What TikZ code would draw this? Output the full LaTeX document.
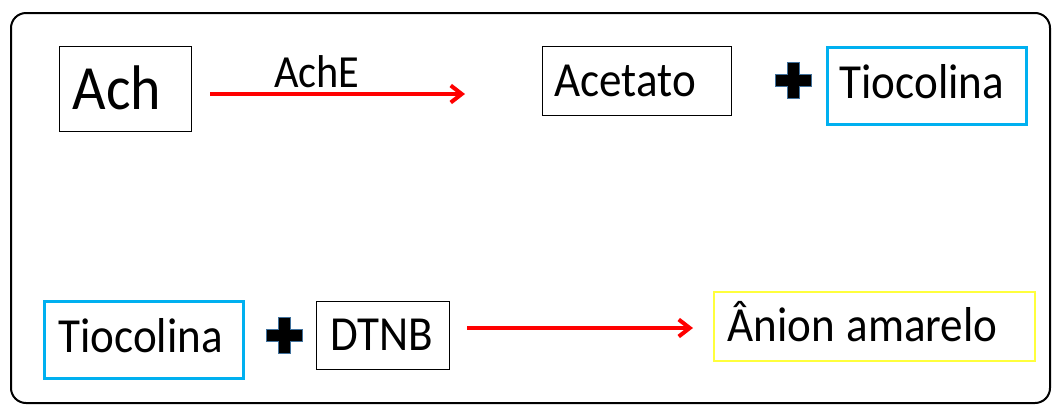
\documentclass[tikz,border=0pt]{standalone}
\usepackage{fontspec}
\setmainfont{Carlito}[FakeStretch=0.92]
\usetikzlibrary{arrows.meta}
\definecolor{cyanline}{HTML}{00B0F0}
\definecolor{plusedge}{HTML}{41719C}
\definecolor{yellowline}{HTML}{FFFF3C}
\definecolor{arrowred}{HTML}{FF0000}

\tikzset{
  crossmark/.pic={
    \filldraw[fill=black, draw=plusedge, line width=0.9pt]
      (-6,-18) -- (6,-18) -- (6,-6) -- (18,-6) -- (18,6) -- (6,6) -- (6,18)
      -- (-6,18) -- (-6,6) -- (-18,6) -- (-18,-6) -- (-6,-6) -- cycle;
  }
}

\begin{document}
\begin{tikzpicture}[x=1pt,y=-1pt,
  frame/.style={draw=black, line width=2pt, rounded corners=15pt},
  tag/.style={rectangle, draw=black, line width=0.9pt, inner ysep=0pt,
    anchor=north west, align=left,
    font=\fontsize{49}{55}\selectfont,
    text height=31pt, text depth=0pt},
  bluetag/.style={tag, draw=cyanline, line width=3pt, text depth=7pt},
  yellowtag/.style={tag, draw=yellowline, line width=1.5pt},
  reaction/.style={draw=arrowred, line width=4pt,
    -{Straight Barb[length=11pt,width=17pt]}},
  enzyme/.style={anchor=base, inner sep=0pt, font=\fontsize{46}{52}\selectfont}
]
\useasboundingbox (0,0) rectangle (1053,405);

% outer frame
\draw[frame] (11,13) rectangle (1050,403);

% first reaction: hydrolysis of acetylthiocholine
\node[tag, font=\fontsize{63}{70}\selectfont, text height=41pt,
      minimum width=132pt, minimum height=85pt, text width=106pt, inner xsep=13pt]
  (ach) at (59,46) {Ach};
\node[tag, minimum width=189pt, minimum height=69pt, text width=165pt, inner xsep=12pt]
  (acetato) at (542,46) {Acetato};
\pic at (793,80) {crossmark};
\node[bluetag, minimum width=199pt, minimum height=77pt, text width=175pt, inner xsep=12pt]
  (tio1) at (826,46) {Tiocolina};

\coordinate (r1s) at (210,94);
\coordinate (r1e) at (465,94);
\draw[reaction] (r1s) -- (r1e);
\node[enzyme] (ache) at (317,87) {AchE};

% second reaction: thiocholine with DTNB
\node[bluetag, minimum width=199pt, minimum height=77pt, text width=171pt, inner xsep=14pt]
  (tio2) at (43,300) {Tiocolina};
\pic at (284,335) {crossmark};
\node[tag, minimum width=133pt, minimum height=68pt, text width=105pt, inner xsep=14pt]
  (dtnb) at (316,301) {DTNB};
\node[yellowtag, minimum width=321pt, minimum height=69pt, text width=293pt, inner xsep=14pt]
  (anion) at (713,291) {\spaceskip=0.23em\relax Ânion amarelo};

\coordinate (r2s) at (467,328);
\coordinate (r2e) at (693,328);
\draw[reaction] (r2s) -- (r2e);
\end{tikzpicture}
\end{document}
